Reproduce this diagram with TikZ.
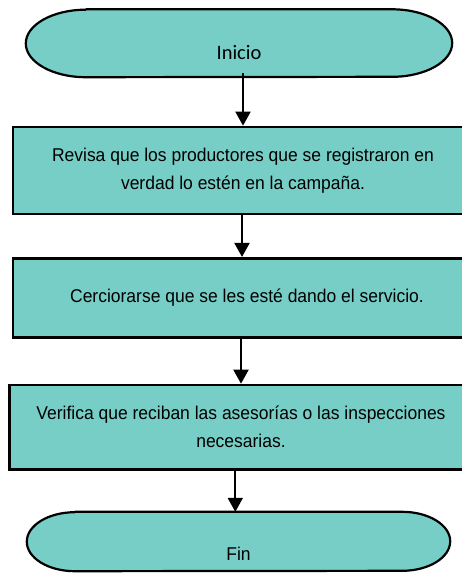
\documentclass[tikz,border=0pt]{standalone}
\usepackage{fontspec}
\newfontfamily\boxfont[FakeStretch=0.945]{Liberation Sans}
\newfontfamily\calfont{Carlito}
\usetikzlibrary{arrows.meta,backgrounds}
\definecolor{tealfill}{RGB}{119,206,199}
\tikzset{
  stepbox/.style={draw=black,line width=2.7pt,fill=tealfill,rectangle,align=center,
    font=\boxfont\fontsize{18.5}{28}\selectfont,inner sep=0pt},
  termnode/.style={draw=none,fill=none,rectangle,inner sep=0pt},
  termline/.style={draw=black,line width=2.2pt,fill=tealfill,line join=round},
  arr/.style={line width=2pt,-{Triangle[length=14pt,width=15pt]}}
}
\newcommand{\termoutline}[3]{%
  \draw[termline] ([xshift=#2]#1.north west) -- ([xshift=-#2]#1.north east)
    arc[start angle=90,end angle=-90,x radius=#2,y radius=#3]
    -- ([xshift=#2]#1.south west)
    arc[start angle=270,end angle=90,x radius=#2,y radius=#3] -- cycle;}
\begin{document}
\begin{tikzpicture}[x=1pt,y=-1pt]
\useasboundingbox (0,0) rectangle (462,573);
% terminals
\node[termnode,minimum width=426pt,minimum height=67.5pt,text height=33.4pt,text depth=0pt,
  font=\calfont\fontsize{20.5}{24}\selectfont] (ini) at (239,43.25) {Inicio};
\node[termnode,minimum width=423pt,minimum height=59pt,text height=37pt,text depth=0pt,
  font=\boxfont\fontsize{18.5}{24}\selectfont] (fin) at (238.5,541.5) {Fin};
\begin{pgfonlayer}{background}
  \termoutline{ini}{60pt}{33.75pt}
  \termoutline{fin}{48pt}{29.5pt}
\end{pgfonlayer}
% process boxes
\node[stepbox,minimum width=460pt,minimum height=87pt] (b1) at (243,170.5)
  {Revisa que los productores que se registraron en\\verdad lo estén en la campaña.};
\node[stepbox,minimum width=468pt,minimum height=79pt] (b2) at (247,297.8)
  {Cerciorarse que se les esté dando el servicio.};
\node[stepbox,minimum width=463pt,minimum height=84.3pt] (b3) at (241,427.2)
  {Verifica que reciban las asesorías o las inspecciones\\necesarias.};
% connectors
\draw[arr] ([yshift=4pt]ini.south -| b1.north) -- (b1.north);
\draw[arr] ([xshift=-1pt]b1.south) -- ([xshift=-1pt]b1.south |- b2.north);
\draw[arr] (b3.north |- b2.south) -- (b3.north);
\draw[arr] ([xshift=-5.7pt]b3.south) -- ([xshift=-5.7pt]b3.south |- fin.north);
\end{tikzpicture}
\end{document}
